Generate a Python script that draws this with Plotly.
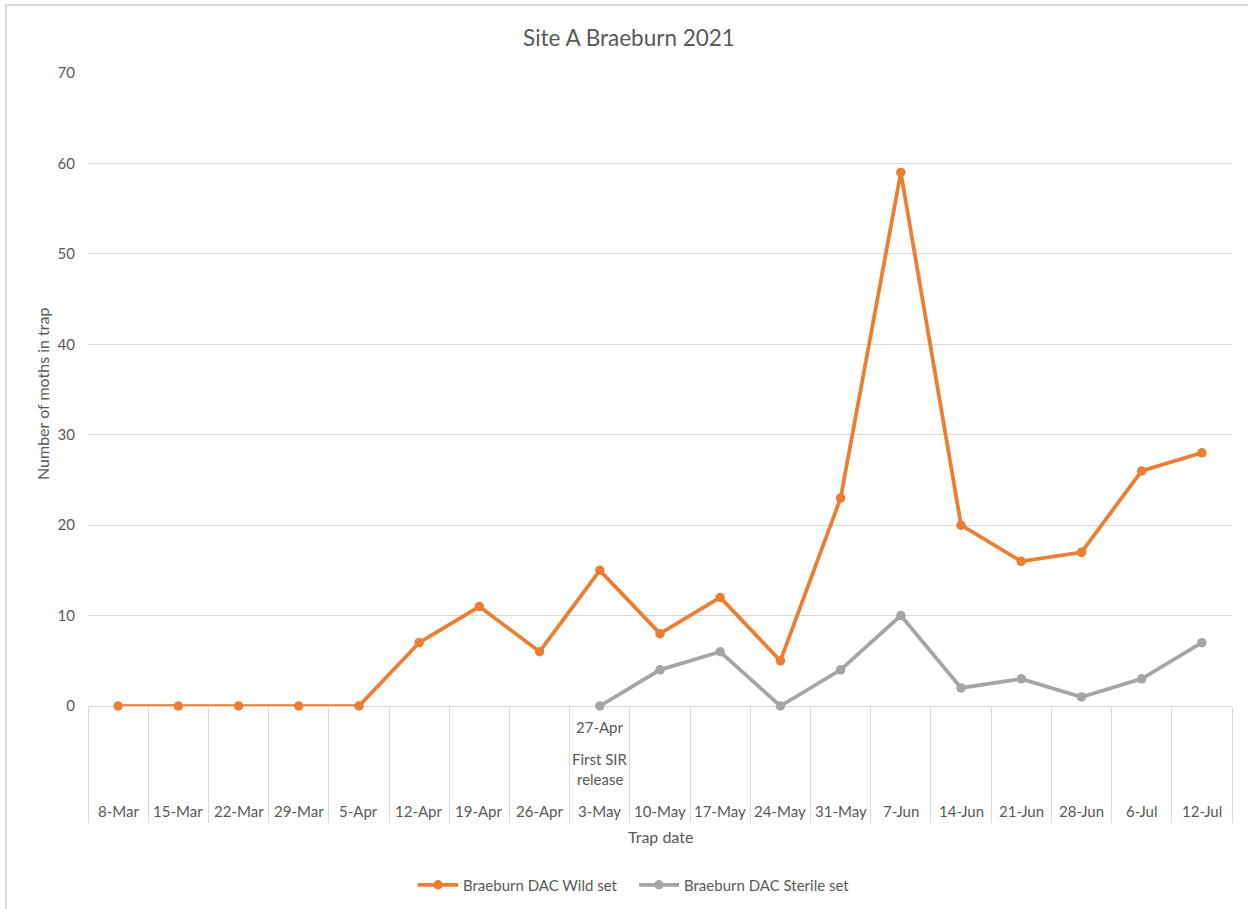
import plotly.graph_objects as go

# Trap dates (category axis) and weekly moth counts
trap_dates = ["8-Mar", "15-Mar", "22-Mar", "29-Mar", "5-Apr", "12-Apr", "19-Apr",
              "26-Apr", "3-May", "10-May", "17-May", "24-May", "31-May", "7-Jun",
              "14-Jun", "21-Jun", "28-Jun", "6-Jul", "12-Jul"]
wild_counts = [0, 0, 0, 0, 0, 7, 11, 6, 15, 8, 12, 5, 23, 59, 20, 16, 17, 26, 28]
sterile_counts = [None, None, None, None, None, None, None, None,
                  0, 4, 6, 0, 4, 10, 2, 3, 1, 3, 7]
y_ticks = [0, 10, 20, 30, 40, 50, 60, 70]

# Release note shown under its trap date
release_date = "3-May"
release_note_top = "27-Apr"
release_note = ["First SIR", "release"]

W, H = 1248, 909
L, R, T, B = 88, 16, 73, 203
PW, PH = W - L - R, H - T - B
FONT = "Lato, Open Sans, sans-serif"
TXT = "#595959"
GRID = "#d9d9d9"
TICK_SIZE = 15


def py(pixel_y):
    """Pixel row -> paper y coordinate."""
    return (H - B - pixel_y) / PH


def px(pixel_x):
    return (pixel_x - L) / PW


fig = go.Figure()
fig.add_trace(go.Scatter(
    x=trap_dates, y=wild_counts, mode="lines+markers",
    name="Braeburn DAC Wild set",
    line=dict(color="#ED7D31", width=3.75),
    marker=dict(color="#ED7D31", size=9.5),
    cliponaxis=False,
))
fig.add_trace(go.Scatter(
    x=trap_dates, y=sterile_counts, mode="lines+markers",
    name="Braeburn DAC Sterile set",
    line=dict(color="#A5A5A5", width=3.75),
    marker=dict(color="#A5A5A5", size=9.5),
    connectgaps=False,
    cliponaxis=False,
))

annotations = []
# Category labels inside the band below the axis
for d in trap_dates:
    annotations.append(dict(x=d, xref="x", y=py(811), yref="paper", text=d,
                            showarrow=False, yanchor="middle",
                            font=dict(family=FONT, size=TICK_SIZE, color=TXT)))
annotations.append(dict(x=release_date, xref="x", y=py(727), yref="paper",
                        text=release_note_top, showarrow=False, yanchor="middle",
                        font=dict(family=FONT, size=TICK_SIZE, color=TXT)))
for i, line in enumerate(release_note):
    annotations.append(dict(x=release_date, xref="x", y=py(759 + 20 * i), yref="paper",
                            text=line, showarrow=False, yanchor="middle",
                            font=dict(family=FONT, size=TICK_SIZE, color=TXT)))
annotations.append(dict(x=px(660), xref="paper", y=py(836), yref="paper",
                        text="Trap date", showarrow=False, yanchor="middle",
                        font=dict(family=FONT, size=16, color=TXT)))
annotations.append(dict(x=px(42), xref="paper", y=py(394), yref="paper",
                        text="Number of moths in trap", textangle=-90,
                        showarrow=False, xanchor="center", yanchor="middle",
                        font=dict(family=FONT, size=16, color=TXT)))

fig.update_layout(
    width=W, height=H,
    margin=dict(l=L, r=R, t=T, b=B, autoexpand=False),
    paper_bgcolor="white", plot_bgcolor="white",
    title=dict(text="Site A Braeburn 2021", x=629 / W, xanchor="center",
               y=1 - 38 / H, yanchor="middle",
               font=dict(family=FONT, size=22.5, color=TXT)),
    xaxis=dict(type="category", range=[-0.5, len(trap_dates) - 0.5],
               showgrid=False, showticklabels=False,
               ticks="outside", tickson="boundaries", ticklen=116,
               tickcolor=GRID, tickwidth=1,
               showline=True, linecolor=GRID, linewidth=1,
               layer="below traces", zeroline=False),
    yaxis=dict(range=[0, 70], tickvals=y_ticks, showgrid=True, gridcolor=GRID,
               gridwidth=1, zeroline=False, showline=False, ticks="",
               ticklabelstandoff=12,
               tickfont=dict(family=FONT, size=TICK_SIZE, color=TXT)),
    legend=dict(orientation="h", x=px(634), xanchor="center", y=py(885),
                yanchor="middle", font=dict(family=FONT, size=TICK_SIZE, color=TXT),
                itemwidth=40, entrywidth=166),
    annotations=annotations,
    shapes=[dict(type="rect", xref="paper", yref="paper",
                 x0=px(6), x1=px(W + 10), y0=py(H + 10), y1=py(5),
                 line=dict(color=GRID, width=2), layer="below")],
    showlegend=True,
)

fig.write_html("out.html")
